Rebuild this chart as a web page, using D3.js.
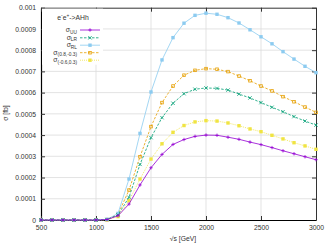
<!DOCTYPE html>
<html>
<head>
<meta charset="utf-8">
<script src="https://cdn.jsdelivr.net/npm/d3@7"></script>
<style>
  body { margin: 0; background: #fff; }
  svg text { font-family: "Liberation Sans", Arial, sans-serif; }
</style>
</head>
<body>
<div id="chart"></div>
<script>
// centre-of-mass energies (GeV)
const energies = [500, 600, 700, 800, 900, 1000, 1100, 1200, 1300, 1400, 1500, 1600, 1700,
                  1800, 1900, 2000, 2100, 2200, 2300, 2400, 2500, 2600, 2700, 2800, 2900, 3000];

// cross sections in fb
const sigmaUU = [0, 0, 0, 0, 0, 0, 0.000002, 0.00002, 0.000075, 0.000165, 0.000246, 0.000309, 0.000356,
                 0.000379, 0.000394, 0.000400, 0.000399, 0.000390, 0.000380, 0.000367, 0.000355, 0.000341,
                 0.000326, 0.000312, 0.000298, 0.000284];
const sigmaLR = [0, 0, 0, 0, 0, 0, 0.000002, 0.000024, 0.000107, 0.000262, 0.000388, 0.000482, 0.000550,
                 0.000595, 0.000616, 0.000622, 0.000620, 0.000612, 0.000593, 0.000575, 0.000553, 0.000531,
                 0.000510, 0.000487, 0.000466, 0.000447];
const sigmaRL = [0, 0, 0, 0, 0, 0, 0.000003, 0.000031, 0.000193, 0.000408, 0.000603, 0.000754, 0.000859,
                 0.000927, 0.000964, 0.000974, 0.000969, 0.000953, 0.000928, 0.000896, 0.000863, 0.000830,
                 0.000793, 0.000758, 0.000724, 0.000694];
const sigmaP1 = [0, 0, 0, 0, 0, 0, 0.000002, 0.000027, 0.000141, 0.000298, 0.000440, 0.000553, 0.000631,
                 0.000682, 0.000705, 0.000713, 0.000710, 0.000699, 0.000678, 0.000656, 0.000631, 0.000608,
                 0.000581, 0.000557, 0.000532, 0.000507];
const sigmaP2 = [0, 0, 0, 0, 0, 0, 0.000001, 0.000016, 0.000091, 0.000193, 0.000287, 0.000359, 0.000413,
                 0.000445, 0.000462, 0.000468, 0.000466, 0.000457, 0.000444, 0.000429, 0.000416, 0.000399,
                 0.000382, 0.000364, 0.000349, 0.000333];

const xTicks = [500, 1000, 1500, 2000, 2500, 3000];
const yTicks = [0, 0.0001, 0.0002, 0.0003, 0.0004, 0.0005, 0.0006, 0.0007, 0.0008, 0.0009, 0.001];

const series = [
  { sub: "UU", values: sigmaUU, color: "#9400d3", dash: null, marker: "plus" },
  { sub: "LR", values: sigmaLR, color: "#009e73", dash: "2.5,1.5", marker: "cross" },
  { sub: "RL", values: sigmaRL, color: "#8ccbf0", dash: null, marker: "fsquare" },
  { sub: "(0.8,-0.3)", values: sigmaP1, color: "#e69f00", dash: "2.5,1.5", marker: "osquare" },
  { sub: "(-0.6,0.3)", values: sigmaP2, color: "#f0e442", dash: "1,1", marker: "fsquare" }
];

const width = 327, height = 245;
const mLeft = 41, mRight = 316, mTop = 7.7, mBottom = 220;

const svg = d3.select("#chart").append("svg")
  .attr("width", width).attr("height", height);

const x = d3.scaleLinear().domain([500, 3000]).range([mLeft, mRight]);
const y = d3.scaleLinear().domain([0, 0.001]).range([mBottom, mTop]);

// grid
svg.append("g").selectAll("line").data(yTicks.slice(1, -1)).enter().append("line")
  .attr("x1", mLeft).attr("x2", mRight).attr("y1", d => y(d)).attr("y2", d => y(d))
  .attr("stroke", "#dcdcdc").attr("stroke-width", 0.8);
svg.append("g").selectAll("line").data(xTicks.slice(1, -1)).enter().append("line")
  .attr("y1", mTop).attr("y2", mBottom).attr("x1", d => x(d)).attr("x2", d => x(d))
  .attr("stroke", "#dcdcdc").attr("stroke-width", 0.8);

// axes (inward ticks, mirrored)
const fmt = d => d === 0 ? "0" : d3.format(".4~f")(d);
svg.append("g").attr("transform", `translate(${mLeft},0)`)
  .call(d3.axisLeft(y).tickValues(yTicks).tickFormat(fmt).tickSizeInner(-4).tickSizeOuter(0).tickPadding(5))
  .call(g => g.select(".domain").attr("stroke", "#000").attr("stroke-width", 1.2))
  .call(g => g.selectAll(".tick line").attr("stroke", "#333"))
  .call(g => g.selectAll("text").attr("font-size", 6.8).attr("fill", "#333")
    .attr("font-family", "'Liberation Sans', Arial, sans-serif"));
svg.append("g").attr("transform", `translate(${mRight},0)`)
  .call(d3.axisRight(y).tickValues(yTicks).tickFormat("").tickSizeInner(-4).tickSizeOuter(0))
  .call(g => g.select(".domain").attr("stroke", "#333").attr("stroke-width", 1))
  .call(g => g.selectAll(".tick line").attr("stroke", "#333"));
svg.append("g").attr("transform", `translate(0,${mBottom})`)
  .call(d3.axisBottom(x).tickValues(xTicks).tickFormat(d3.format("d")).tickSizeInner(-4).tickSizeOuter(0).tickPadding(5))
  .call(g => g.select(".domain").attr("stroke", "#000").attr("stroke-width", 1.2))
  .call(g => g.selectAll(".tick line").attr("stroke", "#333"))
  .call(g => g.selectAll("text").attr("font-size", 6.8).attr("fill", "#333")
    .attr("font-family", "'Liberation Sans', Arial, sans-serif"));
svg.append("g").attr("transform", `translate(0,${mTop})`)
  .call(d3.axisTop(x).tickValues(xTicks).tickFormat("").tickSizeInner(-4).tickSizeOuter(0))
  .call(g => g.select(".domain").attr("stroke", "#333").attr("stroke-width", 1))
  .call(g => g.selectAll(".tick line").attr("stroke", "#333"));

// axis labels
svg.append("text").attr("x", 183).attr("y", 241).attr("text-anchor", "middle")
  .attr("font-size", 6.8).attr("fill", "#333").text("√s [GeV]");
svg.append("text").attr("transform", "translate(8,113) rotate(-90)").attr("text-anchor", "middle")
  .attr("font-size", 6.8).attr("fill", "#333").text("σ [fb]");

// markers
function drawMarker(g, type, color, size) {
  const h = size / 2;
  if (type === "plus") {
    g.append("path").attr("d", `M${-h},0H${h}M0,${-h}V${h}`).attr("stroke", color).attr("stroke-width", 0.8);
  } else if (type === "cross") {
    g.append("path").attr("d", `M${-h},${-h}L${h},${h}M${-h},${h}L${h},${-h}`).attr("stroke", color).attr("stroke-width", 0.8);
  } else if (type === "fsquare") {
    g.append("rect").attr("x", -h).attr("y", -h).attr("width", size).attr("height", size).attr("fill", color);
  } else if (type === "osquare") {
    g.append("rect").attr("x", -h + 0.4).attr("y", -h + 0.4).attr("width", size - 0.8).attr("height", size - 0.8)
      .attr("fill", "none").attr("stroke", color).attr("stroke-width", 0.8);
  }
}

const line = d3.line().x((d, i) => x(energies[i])).y(d => y(d));

// draw back to front: yellow, orange, blue, green, purple on top
[4, 3, 2, 1, 0].forEach(k => {
  const s = series[k];
  const g = svg.append("g");
  g.append("path").attr("d", line(s.values)).attr("fill", "none")
    .attr("stroke", s.color).attr("stroke-width", 0.8).attr("stroke-dasharray", s.dash);
  s.values.forEach((v, i) => {
    const m = g.append("g").attr("transform", `translate(${x(energies[i])},${y(v)})`);
    drawMarker(m, s.marker, s.color, 3.4);
  });
});

// legend with opaque box
const lg = svg.append("g");
lg.append("rect").attr("x", mLeft + 1).attr("y", mTop + 1).attr("width", 61).attr("height", 56).attr("fill", "#fff");
const title = lg.append("text").attr("x", 73).attr("y", 19.5).attr("text-anchor", "middle")
  .attr("font-size", 6.8).attr("fill", "#333");
title.append("tspan").text("e");
title.append("tspan").attr("font-size", 4.8).attr("dy", -2.5).text("-");
title.append("tspan").attr("font-size", 6.8).attr("dy", 2.5).text("e");
title.append("tspan").attr("font-size", 4.8).attr("dy", -2.5).text("+");
title.append("tspan").attr("font-size", 6.8).attr("dy", 2.5).text("->AHh");

const legY = [30, 37.8, 45.2, 52.7, 60.2];
series.forEach((s, k) => {
  const yy = legY[k];
  const t = lg.append("text").attr("x", 77).attr("y", yy + 2).attr("text-anchor", "end")
    .attr("font-size", 6.8).attr("fill", "#333");
  t.append("tspan").text("σ");
  t.append("tspan").attr("font-size", 4.8).attr("dy", 1.5).text(s.sub);
  const g = lg.append("g");
  g.append("line").attr("x1", 80).attr("x2", 100).attr("y1", yy).attr("y2", yy)
    .attr("stroke", s.color).attr("stroke-width", 0.8).attr("stroke-dasharray", s.dash);
  const m = g.append("g").attr("transform", `translate(90,${yy})`);
  drawMarker(m, s.marker, s.color, 3.4);
});
</script>
</body>
</html>
